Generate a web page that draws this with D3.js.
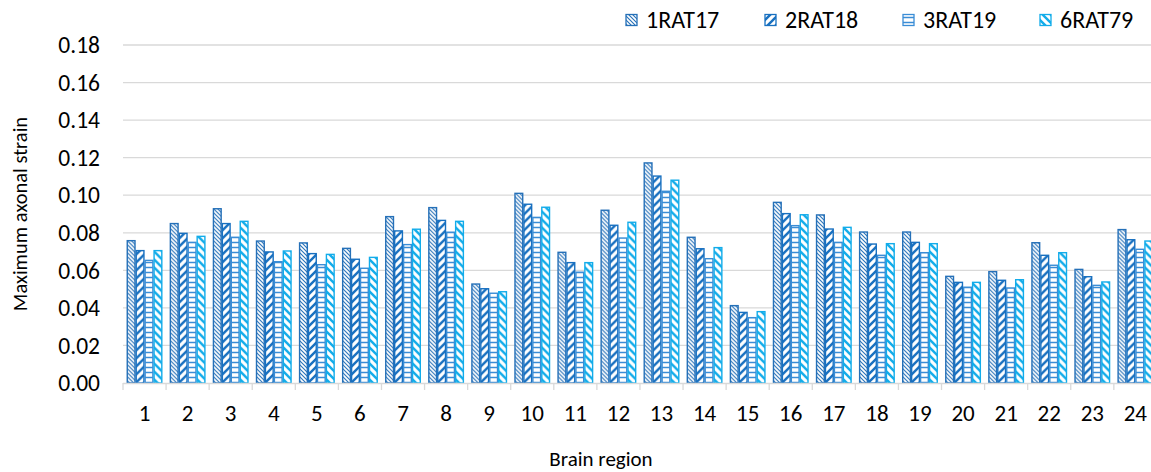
<!DOCTYPE html>
<html><head><meta charset="utf-8">
<script src="https://cdn.jsdelivr.net/npm/d3@7/dist/d3.min.js"></script>
<style>body{margin:0;background:#fff;}svg{display:block;}text{font-family:Carlito,Calibri,Lato,"Open Sans",sans-serif;}</style>
</head><body><div id="chart"></div>
<script>
const categories = ["1","2","3","4","5","6","7","8","9","10","11","12","13","14","15","16","17","18","19","20","21","22","23","24"];
const seriesNames = ["1RAT17","2RAT18","3RAT19","6RAT79"];
const rat1 = [0.0758,0.0849,0.0928,0.0756,0.0746,0.0717,0.0886,0.0934,0.0527,0.1010,0.0696,0.0920,0.1172,0.0776,0.0412,0.0962,0.0895,0.0804,0.0804,0.0568,0.0593,0.0747,0.0605,0.0817];
const rat2 = [0.0705,0.0797,0.0849,0.0698,0.0689,0.0659,0.0810,0.0866,0.0502,0.0952,0.0641,0.0840,0.1102,0.0715,0.0376,0.0902,0.0820,0.0740,0.0749,0.0536,0.0547,0.0680,0.0566,0.0763];
const rat3 = [0.0653,0.0749,0.0776,0.0646,0.0630,0.0611,0.0737,0.0803,0.0478,0.0882,0.0590,0.0772,0.1021,0.0662,0.0348,0.0838,0.0749,0.0680,0.0694,0.0510,0.0506,0.0627,0.0520,0.0712];
const rat6 = [0.0705,0.0781,0.0861,0.0703,0.0685,0.0669,0.0819,0.0861,0.0486,0.0936,0.0641,0.0856,0.1080,0.0721,0.0380,0.0896,0.0829,0.0742,0.0742,0.0536,0.0550,0.0694,0.0538,0.0756];
const yTicks = [0,0.02,0.04,0.06,0.08,0.10,0.12,0.14,0.16,0.18];
const seriesValues = [rat1, rat2, rat3, rat6];

(function(){
const W = 1151, H = 472;
const colors = ["#2570B8","#1870C0","#3A8DD6","#12ACEA"];
const svg = d3.select("#chart").append("svg").attr("width",W).attr("height",H);
const defs = svg.append("defs");

function pat(id, size, draw){
  const p = defs.append("pattern").attr("id",id).attr("patternUnits","userSpaceOnUse")
    .attr("width",size).attr("height",size);
  p.append("rect").attr("width",size).attr("height",size).attr("fill","#fff");
  draw(p);
}
pat("p0",4,p=>{
  p.append("path").attr("d","M-1,-1 L5,5 M-1,3 L1,5 M3,-1 L5,1").attr("stroke",colors[0]).attr("stroke-width",1.1);
});
pat("p1",8,p=>{
  p.append("path").attr("d","M-2,2 L2,-2 M0,8 L8,0 M6,10 L10,6").attr("stroke",colors[1]).attr("stroke-width",2.4);
});
pat("p2",5,p=>{
  p.append("path").attr("d","M0,2.5 L5,2.5").attr("stroke",colors[2]).attr("stroke-width",1.5);
});
pat("p3",8,p=>{
  p.append("path").attr("d","M-2,6 L2,10 M0,0 L8,8 M6,-2 L10,2").attr("stroke",colors[3]).attr("stroke-width",2.4);
});

const left = 123, topY = 45, bottom = 383;
const right = left + 43.08*24;
const x0 = d3.scaleBand().domain(categories).range([left,right]).paddingInner(0.17).paddingOuter(0.085);
const x1 = d3.scaleBand().domain(seriesNames).range([0,x0.bandwidth()]);
const y = d3.scaleLinear().domain([0,0.18]).range([bottom,topY]);

svg.append("g").selectAll("line").data(yTicks.slice(1)).join("line")
  .attr("x1",left).attr("x2",W).attr("y1",d=>y(d)).attr("y2",d=>y(d))
  .attr("stroke","#d9d9d9").attr("stroke-width",1.3);

svg.append("g").selectAll("text").data(yTicks).join("text")
  .attr("x",100).attr("y",d=>y(d)).attr("dy","0.35em").attr("text-anchor","end")
  .attr("font-size",23.5).attr("fill","#000").text(d=>d3.format(".2f")(d));

const groups = svg.append("g").selectAll("g").data(categories).join("g")
  .attr("transform",d=>`translate(${x0(d)},0)`);
groups.selectAll("rect").data((c,i)=>seriesNames.map((s,j)=>({s,j,v:seriesValues[j][i]}))).join("rect")
  .attr("x",d=>x1(d.s)+0.6).attr("width",x1.bandwidth()-1.2)
  .attr("y",d=>y(d.v)).attr("height",d=>bottom-y(d.v))
  .attr("fill",d=>`url(#p${d.j})`).attr("stroke",d=>colors[d.j]).attr("stroke-width",1.4);

svg.append("line").attr("x1",left).attr("x2",W).attr("y1",bottom+0.5).attr("y2",bottom+0.5)
  .attr("stroke","#d9d9d9").attr("stroke-width",1.3);
const bounds = d3.range(25).map(i=>left+i*x0.step());
svg.append("g").selectAll("line").data(bounds).join("line")
  .attr("x1",d=>d).attr("x2",d=>d).attr("y1",bottom).attr("y2",bottom+7)
  .attr("stroke","#d9d9d9").attr("stroke-width",1.3);
svg.append("g").selectAll("text").data(categories).join("text")
  .attr("x",d=>x0(d)+x0.bandwidth()/2).attr("y",413).attr("dy","0.35em").attr("text-anchor","middle")
  .attr("font-size",23).attr("fill","#000").text(d=>d);

svg.append("text").attr("x",601).attr("y",459).attr("dy","0.35em").attr("text-anchor","middle")
  .attr("font-size",21).text("Brain region");
svg.append("text").attr("transform","translate(20,214) rotate(-90)").attr("dy","0.35em")
  .attr("text-anchor","middle").attr("font-size",20.5).text("Maximum axonal strain");

const legX = [626,765,903,1040];
const leg = svg.append("g").selectAll("g").data(seriesNames).join("g")
  .attr("transform",(d,i)=>`translate(${legX[i]},20)`);
leg.append("rect").attr("x",0).attr("y",-5.5).attr("width",11).attr("height",11)
  .attr("fill",(d,i)=>`url(#p${i})`).attr("stroke",(d,i)=>colors[i]).attr("stroke-width",1.3);
leg.append("text").attr("x",20).attr("y",0).attr("dy","0.35em").attr("font-size",24).text(d=>d);
})();
</script></body></html>
